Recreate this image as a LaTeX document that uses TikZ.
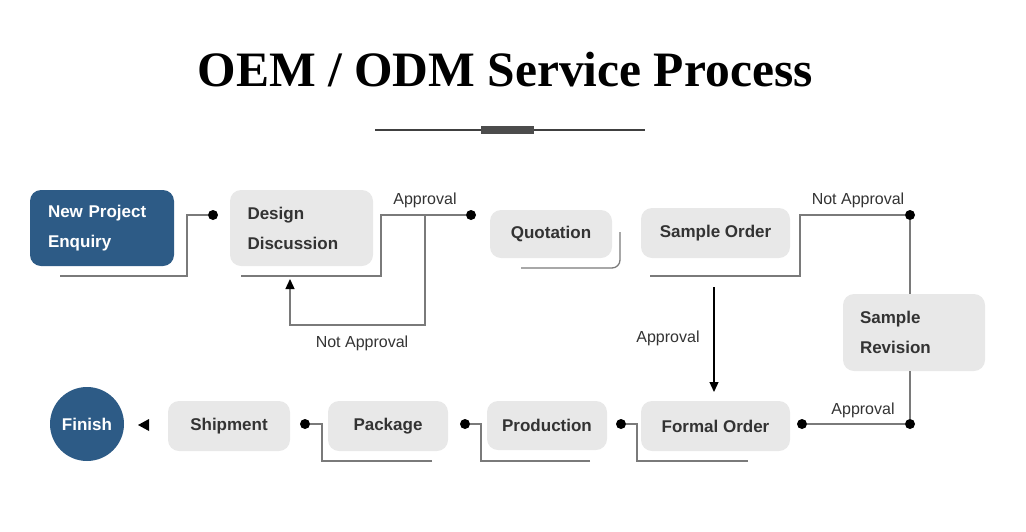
\documentclass[tikz,border=0pt]{standalone}
\usepackage{fontspec}
\setmainfont{Liberation Sans}
\newfontfamily\titlefont{Liberation Serif}
\usepackage{xcolor}
\usetikzlibrary{arrows.meta,positioning}
\definecolor{stepblue}{HTML}{2D5B86}
\definecolor{stepgray}{HTML}{E8E8E8}
\definecolor{linegray}{HTML}{7A7A7A}

\begin{document}
\begin{tikzpicture}[x=1pt,y=-1pt,
                          stepbox/.style={rounded corners=11pt, fill=stepgray, draw=none, inner sep=0pt, font=\bfseries\fontsize{17}{30}\selectfont, text=black!80},
                          twoline/.style={align=left, text width=108pt, inner xsep=17pt},
                          startbox/.style={stepbox, fill=stepblue, text=white},
                          wire/.style={linegray, line width=1.3pt},
                          dot/.style={circle, fill=black, inner sep=0pt, minimum size=10pt},
                          lbl/.style={font=\fontsize{16}{18}\selectfont, text=black!80},
                         ]

\useasboundingbox (0,0) rectangle (1026,531);

% title
\node (title) at (505,70) {\titlefont\bfseries\fontsize{49.5}{54}\selectfont OEM / ODM Service Process};
\draw[black!75, line width=1.3pt] (375,130) -- (645,130);
\fill[black!70] (481,126) rectangle (534,134);

% boxes
\node[startbox, twoline, minimum width=144pt, minimum height=76pt] (enq) at (102,228) {New Project\\Enquiry};
\node[stepbox, twoline, minimum width=143pt, minimum height=76pt] (design) at (301.5,228) {Design\\Discussion};
\node[stepbox, minimum width=122pt, minimum height=48pt] (quote) at (551,234) {Quotation};
\node[stepbox, minimum width=149pt, minimum height=50pt] (sample) at (715.5,233) {Sample Order};
\node[stepbox, twoline, minimum width=142pt, minimum height=77pt] (revise) at (914,332.5) {Sample\\Revision};
\node[stepbox, minimum width=149pt, minimum height=50pt] (formal) at (715.5,426) {Formal Order};
\node[stepbox, minimum width=120pt, minimum height=49pt] (prod) at (547,425.5) {Production};
\node[stepbox, minimum width=120pt, minimum height=50pt] (pack) at (388,426) {Package};
\node[stepbox, minimum width=122pt, minimum height=50pt] (ship) at (229,426) {Shipment};
\node[circle, fill=stepblue, minimum size=74pt, inner sep=0pt, text=white, font=\bfseries\fontsize{17}{20}\selectfont] (finish) at (87,424) {Finish};

% dots
\node[dot] (d1) at (213,215) {};
\node[dot] (d2) at (471,215) {};
\node[dot] (d3) at (910,215) {};
\node[dot] (d4) at (910,424) {};
\node[dot] (d5) at (802,424) {};
\node[dot] (d6) at (621,424) {};
\node[dot] (d7) at (465,424) {};
\node[dot] (d8) at (305,424) {};

% connectors
\draw[wire] (60,276) -| (187,215) -- (d1);
\draw[wire] (241,276) -| (381,215) -- (d2);
\draw[wire, -{Triangle[length=10pt,width=9pt,black]}] (425,215) |- (290,325) -- (290,279);
\draw[wire, rounded corners=8pt] (521,268) -| (620,232);
\draw[wire] (650,276) -| (800,215) -- (d3);
\draw[wire] (d3) -- (revise.north -| d3);
\draw[wire] (revise.south -| d4) -- (d4);
\draw[wire] (d4) -- (d5);
\draw[black, line width=1.3pt, -{Triangle[length=10pt,width=9pt]}] (714,287) -- (714,392);
\draw[wire] (748,461) -| (637,424) -- (d6);
\draw[wire] (590,461) -| (481,424) -- (d7);
\draw[wire] (432,461) -| (322,424) -- (d8);
\fill[black] (138,425) -- (149,419) -- (149,431) -- cycle;

% labels
\node[lbl] (a1) at (425,200) {Approval};
\node[lbl] (n1) at (362,343) {Not Approval};
\node[lbl] (n2) at (858,200) {Not Approval};
\node[lbl] (a2) at (668,338) {Approval};
\node[lbl] (a3) at (863,410) {Approval};

\end{tikzpicture}
\end{document}
